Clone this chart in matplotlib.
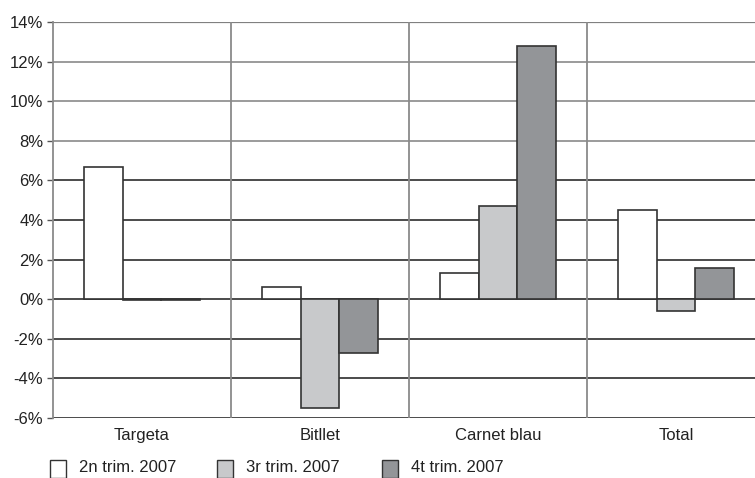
import matplotlib
matplotlib.use("Agg")
import matplotlib.pyplot as plt
from matplotlib.patches import Rectangle
import numpy as np

plt.rcParams['font.family'] = ['Liberation Sans', 'DejaVu Sans']

categories = ["Targeta", "Bitllet", "Carnet blau", "Total"]
series_names = ["2n trim. 2007", "3r trim. 2007", "4t trim. 2007"]
s2n = [6.7, 0.6, 1.3, 4.5]
s3r = [-0.05, -5.5, 4.7, -0.6]
s4t = [-0.05, -2.7, 12.8, 1.6]
yticks = [-6, -4, -2, 0, 2, 4, 6, 8, 10, 12, 14]

colors = ["#ffffff", "#c8c9cb", "#939598"]
edge = "#333333"
FS = 12

fig = plt.figure(figsize=(7.55, 4.78), dpi=100)
ax = fig.add_axes([53/755, 60/478, 712/755, 396/478])

x = np.arange(len(categories)) + 0.5
w = 0.219
for i, (vals, c, name) in enumerate(zip([s2n, s3r, s4t], colors, series_names)):
    ax.bar(x + (i - 1) * w, vals, width=w, color=c, edgecolor=edge,
           linewidth=1.2, zorder=3, label=name)

for yv in yticks:
    col = "#808080" if yv >= 8 else "#1a1a1a"
    lw = 1.6 if yv == 14 else 1.1
    ax.axhline(yv, color=col, lw=lw, zorder=1)
for xv in [1, 2, 3]:
    ax.axvline(xv, color="#8a8a8a", lw=1.3, zorder=1)

ax.set_xlim(0, 4)
ax.set_ylim(-6, 14)
ax.set_yticks(yticks)
ax.set_yticklabels([f"{v}%" for v in yticks], fontsize=FS, color="#222222")
ax.set_xticks(x)
ax.set_xticklabels(categories, fontsize=FS, color="#222222")
ax.tick_params(axis='x', length=0, pad=7)
ax.tick_params(axis='y', length=4, width=1, color="#555555", pad=3)
for s in ["top", "right", "bottom"]:
    ax.spines[s].set_visible(False)
ax.spines["left"].set_color("#8a8a8a")
ax.spines["left"].set_linewidth(1.3)

# legend
lx = [50, 217, 382]
for px, c, name in zip(lx, colors, series_names):
    fig.patches.append(Rectangle((px/755, 0/478), 16/755, 18/478,
                                 transform=fig.transFigure, facecolor=c,
                                 edgecolor=edge, linewidth=1.0))
    fig.text((px + 29)/755, 11/478, name, fontsize=FS, color="#222222",
             va="center", ha="left")

fig.savefig("out.png", dpi=100)
